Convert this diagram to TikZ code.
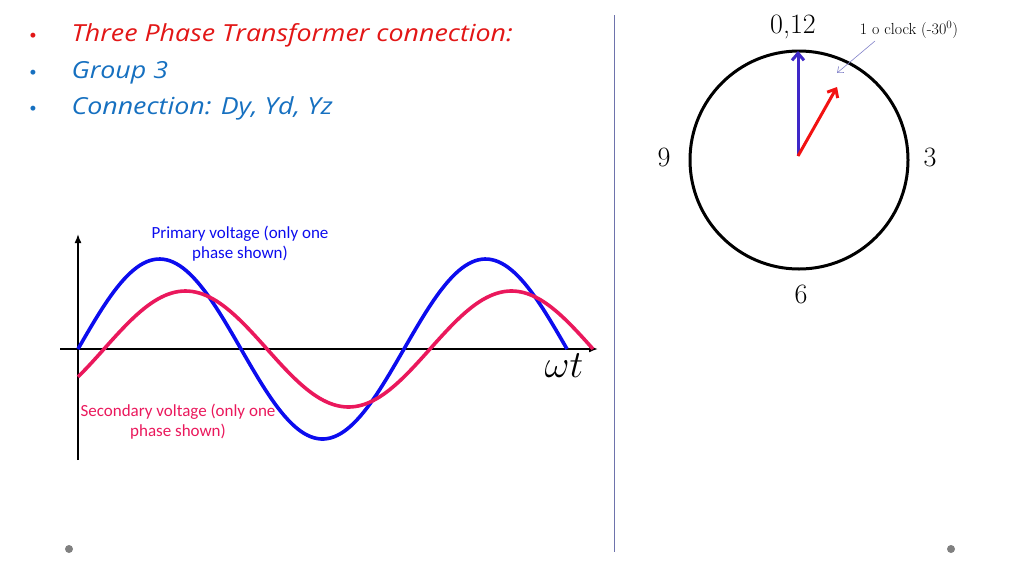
\documentclass[tikz,border=0pt]{standalone}
\usepackage{fontspec}
\newfontfamily\handfont[FakeStretch=1.14]{Open Sans}
\newfontfamily\calfont{Carlito}
\usetikzlibrary{arrows.meta}
\definecolor{titlered}{RGB}{226,22,22}
\definecolor{listblue}{RGB}{22,112,192}
\definecolor{primblue}{RGB}{12,12,238}
\definecolor{secred}{RGB}{234,24,92}
\definecolor{phasorblue}{RGB}{62,40,200}
\definecolor{phasorred}{RGB}{242,18,18}
\definecolor{sepline}{RGB}{110,115,172}
\definecolor{notearrow}{RGB}{128,128,200}

\begin{document}
\begin{tikzpicture}[x=1pt,y=-1pt,
  wave/.style={line width=3.6pt},
  axis/.style={line width=1.6pt,-{Latex[length=9pt,width=7pt]}},
  phasor/.style={line width=3pt,-{Straight Barb[length=7pt,width=12pt]}},
  clocknum/.style={font=\fontsize{28}{32}\selectfont},
  item/.style={anchor=base west,font=\handfont\itshape\fontsize{23.5}{27}\selectfont},
  dot/.style={anchor=base,font=\fontsize{22}{26}\selectfont},
  wavelabel/.style={align=center,font=\calfont\fontsize{17}{20}\selectfont}]

\newcommand\AXY{349}
\newcommand\ORX{78}
\newcommand\PER{326}

  \useasboundingbox (0,0) rectangle (1024,576);

  %% bullet list
  \node[dot,text=titlered] (d1) at (33,41) {\textbullet};
  \node[dot,text=listblue] (d2) at (33,78) {\textbullet};
  \node[dot,text=listblue] (d3) at (33,114) {\textbullet};
  \node[item,text=titlered] (l1) at (68,41) {Three Phase Transformer connection:};
  \node[item,text=listblue] (l2) at (68,78) {Group 3};
  \node[item,text=listblue] (l3) at (68,114) {Connection: Dy, Yd, Yz};

  %% separator
  \draw[sepline,line width=1pt] (614,15) -- (614,552);

  %% axes
  \coordinate (xs) at (60,\AXY);
  \coordinate (xe) at (598,\AXY);
  \coordinate (ys) at (\ORX,460);
  \coordinate (ye) at (\ORX,234);
  \draw[axis] (xs) -- (xe);
  \draw[axis] (ys) -- (ye);

  %% waves
  \draw[wave,primblue] plot[domain=0:540,samples=150]
  ({\ORX+\x/360*\PER},{\AXY-90*sin(\x)}); %% primary
  \draw[wave,secred] plot[domain=-28.7:540,samples=150]
  ({\ORX+26+\x/360*\PER},{\AXY-58*sin(\x)}); %% secondary

  %% wave labels
  \node[wavelabel,text=primblue] (prim) at (240,244)
  {Primary voltage (only one\\phase shown)};
  \node[wavelabel,text=secred] (sec) at (178,422)
  {Secondary voltage (only one\\phase shown)};
  \node[font=\fontsize{24}{28}\selectfont] (wt) at (564,366)
  {\scalebox{1.55}{$\omega t$}};

  %% clock
  \coordinate (ctr) at (799,160);
  \coordinate (o) at (798,156);
  \coordinate (twelve) at (798,51);
  \coordinate (one) at (837,87);
  \draw[line width=3pt] (ctr) circle (109);
  \draw[phasor,phasorblue] (o) -- (twelve);
  \draw[phasor,phasorred] (o) -- (one);

  \node[clocknum] (n12) at (793,27) {0,12};
  \node[clocknum] (n9) at (664,157) {9};
  \node[clocknum] (n3) at (930,157) {3};
  \node[clocknum] (n6) at (801,294) {6};

  %% note
  \node[font=\fontsize{16}{18}\selectfont] (note) at (909,30)
  {1 o clock (-30\textsuperscript{0})};
  \coordinate (notetail) at (875,41);
  \coordinate (notetip) at (837,73);
  \draw[notearrow,line width=0.6pt,-{Straight Barb[length=5pt,width=8pt]}]
  (notetail) -- (notetip);

  %% page dots
  \fill[gray] (69,549) circle (4);
  \fill[gray] (951,549) circle (4);

\end{tikzpicture}
\end{document}
